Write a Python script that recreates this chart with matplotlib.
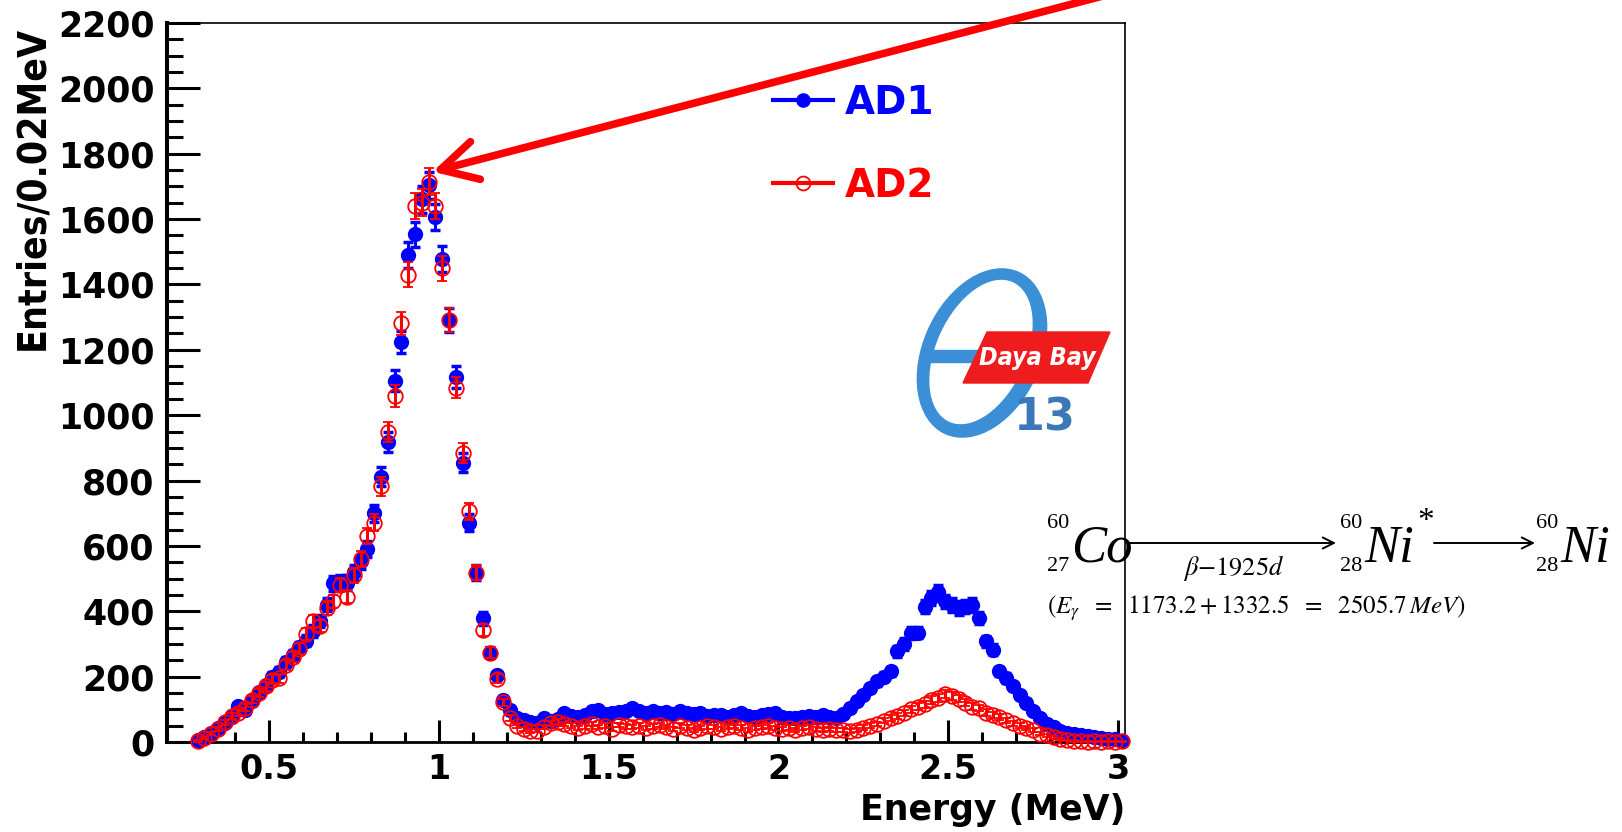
import numpy as np
import matplotlib.pyplot as plt
from matplotlib.lines import Line2D
from matplotlib.patches import Ellipse, Polygon, Rectangle
from matplotlib.ticker import MultipleLocator

plt.rcParams["font.family"] = ["DejaVu Sans"]
plt.rcParams["mathtext.fontset"] = "stix"

# bin centres (MeV), bins are 0.02 MeV wide
energy = np.round(0.29 + 0.02 * np.arange(137), 2)

# entries per bin
ad1_counts = [
    5, 15, 27, 42, 57, 75, 110, 97, 125, 153,
    173, 200, 214, 245, 265, 290, 310, 340, 370, 420,
    485, 490, 488, 520, 553, 590, 700, 812, 918, 1106,
    1224, 1490, 1553, 1660, 1703, 1607, 1478, 1291, 1116, 855,
    671, 518, 378, 273, 204, 130, 99, 73,
    68, 62, 58, 72, 65, 70, 88, 80, 75, 82,
    95, 98, 85, 88, 92, 96, 104, 95, 90, 94,
    88, 92, 85, 94, 90, 86, 88, 80, 84, 82,
    78, 84, 88, 80, 76, 82, 86, 90, 78, 74,
    72, 75, 80, 78, 82, 76,
    74, 85, 105, 125, 145, 165, 186, 200, 216, 277,
    300, 333, 335, 414, 440, 460, 430, 419, 410, 414,
    419, 379, 308, 282, 216, 196, 171, 145, 120, 94,
    74, 55, 45, 33, 28, 23, 20, 18, 15, 13,
    10, 8, 3,
]
ad2_counts = [
    3, 12, 25, 40, 60, 80, 90, 105, 130, 150,
    170, 190, 195, 235, 260, 285, 330, 370, 355, 410,
    430, 480, 445, 510, 560, 630, 671, 782, 948, 1059,
    1281, 1430, 1640, 1650, 1715, 1640, 1450, 1291, 1084, 884,
    706, 518, 343, 273, 194, 121, 73, 50,
    40, 33, 35, 45, 58, 62, 55, 50, 42, 48,
    55, 45, 50, 40, 52, 48, 45, 50, 42, 48,
    52, 45, 40, 50, 44, 38, 42, 48, 45, 40,
    46, 50, 44, 38, 42, 46, 50, 42, 40, 44,
    38, 42, 45, 40, 36, 40,
    38, 36, 34, 38, 44, 50, 55, 65, 74, 80,
    88, 100, 108, 115, 128, 135, 148, 140, 133, 120,
    108, 104, 90, 84, 76, 66, 58, 50, 42, 38,
    26, 20, 14, 9, 5, 3, 2, 1, 2, 1,
    2, 1, 2,
]
series_names = ["AD1", "AD2"]

x_ticks = [0.5, 1, 1.5, 2, 2.5, 3]
x_tick_labels = ["0.5", "1", "1.5", "2", "2.5", "3"]
y_ticks = list(range(0, 2201, 200))

W, H = 1622, 832
fig = plt.figure(figsize=(W / 100, H / 100), dpi=100)
ax = fig.add_axes([167 / W, 1 - 742 / H, (1125 - 167) / W, (742 - 23) / H])

ad1 = np.array(ad1_counts, dtype=float)
ad2 = np.array(ad2_counts, dtype=float)

eb1 = ax.errorbar(energy, ad1, yerr=np.sqrt(ad1), fmt="o", color="blue",
                  ms=10, elinewidth=2.2, capsize=3.5, capthick=2.5, zorder=3)
eb2 = ax.errorbar(energy, ad2, yerr=np.sqrt(ad2), fmt="o", mfc="none",
                  mec="red", ecolor="red", ms=10.5, mew=1.3,
                  elinewidth=2.2, capsize=3.5, capthick=2.5, zorder=4)
for eb in (eb1, eb2):
    for art in eb.get_children():
        art.set_clip_on(False)

ax.set_xlim(0.2, 3.02)
ax.set_ylim(0, 2200)
ax.set_xticks(x_ticks, x_tick_labels)
ax.set_yticks(y_ticks)
ax.xaxis.set_minor_locator(MultipleLocator(0.1))
ax.yaxis.set_minor_locator(MultipleLocator(50))
ax.tick_params(axis="x", which="major", direction="in", length=16, width=2.2,
               pad=8, labelsize=24)
ax.tick_params(axis="x", which="minor", direction="in", length=7.2, width=2.2)
ax.tick_params(axis="y", which="major", direction="in", length=23.8, width=2.2,
               pad=9, labelsize=25)
ax.tick_params(axis="y", which="minor", direction="in", length=11.5, width=2.2)
ax.tick_params(which="both", top=False, right=False)
for lbl in ax.get_xticklabels() + ax.get_yticklabels():
    lbl.set_fontweight("bold")

ax.spines["left"].set_linewidth(2.9)
ax.spines["bottom"].set_linewidth(2.0)
ax.spines["top"].set_linewidth(1.2)
ax.spines["right"].set_linewidth(1.2)

fig.text(32 / W, 1 - 26 / H, "Entries/0.02MeV", rotation=90, ha="center",
         va="top", fontsize=28, fontweight="bold", fontstretch="condensed")
fig.text(1125 / W, 12 / H, "Energy (MeV)", ha="right", va="baseline",
         fontsize=25, fontweight="bold")

# legend
handles = [
    Line2D([], [], color="blue", lw=3, marker="o", ms=9.5),
    Line2D([], [], color="red", lw=3, marker="o", mfc="none", ms=10, mew=1.3),
]
leg = fig.legend(handles, series_names, loc="upper left",
                 bbox_to_anchor=(773 / W, 1 - 84 / H), frameon=False,
                 fontsize=28, handlelength=1.54, handletextpad=0.3,
                 labelspacing=1.16, borderpad=0, borderaxespad=0)
for txt, col in zip(leg.get_texts(), ["blue", "red"]):
    txt.set_color(col)
    txt.set_fontweight("bold")

# big red arrow to the peak
ax.annotate("", xy=(0.982, 1745), xycoords="data",
            xytext=(1118, H + 8), textcoords="figure pixels",
            annotation_clip=False,
            arrowprops=dict(arrowstyle="->,head_length=1.3,head_width=0.7",
                            lw=5.5, color="red", mutation_scale=20,
                            shrinkA=0, shrinkB=0))

# overlay in pixel coordinates for logo and decay scheme
ov = fig.add_axes([0, 0, 1, 1], zorder=5)
ov.set_xlim(0, W)
ov.set_ylim(H, 0)
ov.axis("off")

logo_blue = "#3a8fd6"
ov.add_patch(Ellipse((982, 353), 177, 117, angle=-65.5, color=logo_blue))
ov.add_patch(Ellipse((981, 352), 152, 88, angle=-65.5, color="white"))
ov.add_patch(Rectangle((922, 350), 63, 12, color=logo_blue))
ov.add_patch(Polygon([(987, 332), (1110, 332), (1088, 383), (963, 383)],
                     closed=True, color="#ee1c1c"))
ov.text(1037, 358, "Daya Bay", color="white", fontsize=18, fontweight="bold",
        fontstyle="italic", fontstretch="condensed", ha="center", va="center")
ov.text(1045, 418, "13", color="#3c78b8", fontsize=32, fontweight="bold",
        ha="center", va="center")

serif = "Liberation Serif"
arrow_kw = dict(arrowstyle="->", lw=1.4, color="black", shrinkA=0, shrinkB=0,
                mutation_scale=20)


def nucleus(x, mass, charge, symbol):
    ov.text(x, 528, mass, fontsize=16, family=serif, ha="right", va="baseline")
    ov.text(x, 571, charge, fontsize=16, family=serif, ha="right", va="baseline")
    ov.text(x + 2, 562, symbol, fontsize=38, family=serif, style="italic",
            ha="left", va="baseline")


nucleus(1069, "60", "27", "Co")
ov.annotate("", xy=(1336, 543), xytext=(1129, 543), arrowprops=arrow_kw)
ov.text(1234, 575, r"$\beta{-}1925d$", fontsize=19, ha="center", va="baseline")
nucleus(1362, "60", "28", "Ni")
ov.text(1417, 507, "*", fontsize=24, family=serif, ha="left", va="top")
ov.annotate("", xy=(1535, 543), xytext=(1434, 543), arrowprops=arrow_kw)
nucleus(1558, "60", "28", "Ni")
ov.text(1047, 614,
        r"$(E_{\gamma}\ \ =\ \ 1173.2+1332.5\ \ =\ \ 2505.7\,MeV)$",
        fontsize=18, ha="left", va="baseline")

fig.savefig("out.png", dpi=100)
